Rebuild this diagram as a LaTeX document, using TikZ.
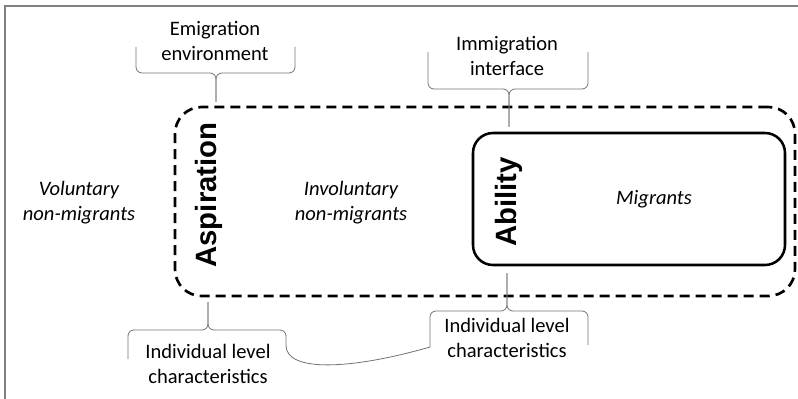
\documentclass[tikz,border=0pt]{standalone}
\usepackage{fontspec}
\setmainfont{Carlito}
\newfontfamily\headfont{Liberation Sans}
\usetikzlibrary{positioning}

\begin{document}
\begin{tikzpicture}[x=0.75pt, y=-0.75pt]
  \tikzstyle{label}=[font=\fontsize{15.4}{18.8}\selectfont, align=center, inner sep=0pt]
  \tikzstyle{group}=[label, font=\fontsize{15.4}{18.8}\selectfont\itshape]
  \tikzstyle{factor}=[font=\headfont\bfseries\fontsize{22}{26}\selectfont, rotate=90, inner sep=0pt]
  \tikzstyle{brace}=[draw=black!55, line width=0.6pt, rounded corners=4.5pt]
  \useasboundingbox (0,0) rectangle (798,399);

  % Frame
  \draw[black!50, line width=1.6pt] (5,399) -- (5,6) -- (798,6);

  % Boxes
  \node[draw, line width=2pt, dash pattern=on 7.5pt off 4.5pt, rounded corners=20pt,
        minimum width=465pt, minimum height=141.75pt] (aspbox) at (485,201.5) {};
  \node[draw, line width=1.9pt, rounded corners=15pt,
        minimum width=234pt, minimum height=99pt] (ablbox) at (629,199) {};

  % Factors
  \node[factor] (asp) at (209,195) {Aspiration};
  \node[factor] (abl) at (509,202) {Ability};

  % Groups
  \node[group] (vol) at (79,203) {Voluntary\\non-migrants};
  \node[group] (invol) at (351,203) {Involuntary\\non-migrants};
  \node[group] (mig) at (654,199) {Migrants};

  % Labels
  \node[label] (emig) at (215,41) {Emigration\\environment};
  \node[label] (immig) at (507,56) {Immigration\\interface};
  \node[label] (indiv1) at (208,364) {Individual level\\characteristics};
  \node[label] (indiv2) at (507,338) {Individual level\\characteristics};

  % Braces above
  \draw[brace] (136,47) -- (136,73) -- (216,73) -- (216,102);
  \draw[brace] (295,47) -- (295,73) -- (216,73) -- (216,102);
  \draw[brace] (428,52) -- (428,89) -- (509,89) -- (509,127);
  \draw[brace] (588,52) -- (588,89) -- (509,89) -- (509,127);

  % Braces below
  \coordinate (lbend) at (286,346);
  \coordinate (rbend) at (430,347);
  \draw[brace] (128,359) -- (128,330) -- (208,330) -- (208,302);
  \draw[brace] (lbend) -- (286,330) -- (208,330) -- (208,302);
  \draw[brace] (rbend) -- (430,311) -- (507,311) -- (507,273);
  \draw[brace] (588,345) -- (588,311) -- (507,311) -- (507,273);
  \draw[draw=black!55, line width=0.6pt] (lbend) .. controls (287,372) and (350,370) .. (rbend);
\end{tikzpicture}
\end{document}
